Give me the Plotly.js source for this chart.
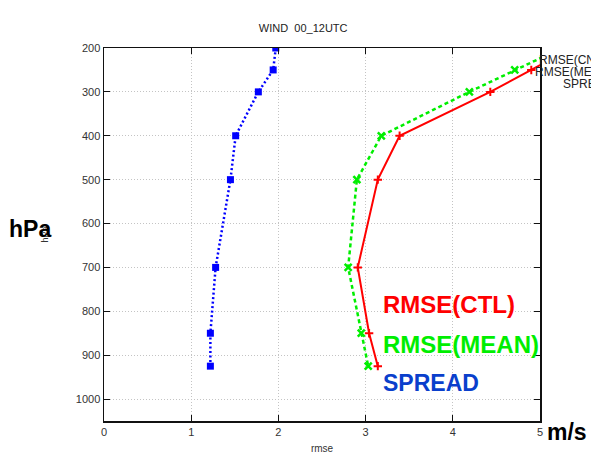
<!DOCTYPE html>
<html>
<head>
<meta charset="utf-8">
<script src="https://cdn.plot.ly/plotly-3.0.1.min.js"></script>
<style>html,body{margin:0;padding:0;background:#fff}#chart{width:591px;height:462px}</style>
</head>
<body>
<div id="chart"></div>
<script>
const levels = [200, 250, 300, 400, 500, 700, 850, 925];
const rmseCtl = [5.35, 4.90, 4.43, 3.39, 3.14, 2.91, 3.04, 3.14];
const rmseMean = [5.25, 4.71, 4.19, 3.18, 2.90, 2.80, 2.95, 3.03];
const spread = [1.97, 1.94, 1.77, 1.51, 1.45, 1.28, 1.22, 1.22];
const xTicks = [0, 1, 2, 3, 4, 5];
const yTicks = [200, 300, 400, 500, 600, 700, 800, 900, 1000];

const FONT = 'Liberation Sans, Arial, sans-serif';

const traces = [
  {x: rmseCtl, y: levels, type: 'scatter', mode: 'lines+markers', name: 'RMSE(CNTL)',
   line: {color: '#ff0000', width: 2, dash: 'solid'},
   marker: {symbol: 'cross-thin', size: 6, color: '#ff0000', line: {color: '#ff0000', width: 2}}, cliponaxis: true},
  {x: rmseMean, y: levels, type: 'scatter', mode: 'lines+markers', name: 'RMSE(MEAN)',
   line: {color: '#00ee00', width: 2.5, dash: '4px,3px'},
   marker: {symbol: 'x-thin', size: 7, color: '#00ee00', line: {color: '#00ee00', width: 2.5}}, cliponaxis: true},
  {x: spread, y: levels, type: 'scatter', mode: 'lines+markers', name: 'SPREAD',
   line: {color: '#0000ff', width: 2.5, dash: '2px,2.5px'},
   marker: {symbol: 'square', size: 7, color: '#0000ff'}, cliponaxis: true}
];

const axisCommon = {
  showline: true, linecolor: '#111', linewidth: 1.5, mirror: 'allticks',
  ticks: 'inside', ticklen: 6, tickcolor: '#111',
  showgrid: true, gridcolor: '#c4c4c4', griddash: '1px,2px', gridwidth: 1,
  zeroline: false, tickfont: {family: FONT, size: 11, color: '#333'}
};

const layout = {
  width: 591, height: 462,
  margin: {l: 104, r: 51, t: 48, b: 41},
  paper_bgcolor: '#fff', plot_bgcolor: '#fff',
  showlegend: false,
  title: {text: 'WIND  00_12UTC', x: 0.513, xanchor: 'center', y: 0.94, yanchor: 'middle',
          font: {family: FONT, size: 11, color: '#222'}},
  xaxis: Object.assign({}, axisCommon, {range: [0, 5], tickvals: xTicks, ticktext: xTicks.map(String),
    title: {text: 'rmse', standoff: 8, font: {family: FONT, size: 10, color: '#333'}}}),
  yaxis: Object.assign({}, axisCommon, {range: [1050, 200], tickvals: yTicks, ticktext: yTicks.map(String),
    title: {text: 'hPa', standoff: 25, font: {family: FONT, size: 9, color: '#333'}}}),
  annotations: [
    {xref: 'paper', yref: 'paper', x: 0.636, y: 0.313, xanchor: 'left', yanchor: 'middle', showarrow: false,
     text: '<b>RMSE(CTL)</b>', font: {family: FONT, size: 24, color: '#ff0000'}},
    {xref: 'paper', yref: 'paper', x: 0.636, y: 0.206, xanchor: 'left', yanchor: 'middle', showarrow: false,
     text: '<b>RMSE(MEAN)</b>', font: {family: FONT, size: 24, color: '#00ee00'}},
    {xref: 'paper', yref: 'paper', x: 0.636, y: 0.102, xanchor: 'left', yanchor: 'middle', showarrow: false,
     text: '<b>SPREAD</b>', font: {family: FONT, size: 23, color: '#0a3fcc'}},
    {xref: 'paper', yref: 'paper', x: -0.17, y: 0.515, xanchor: 'center', yanchor: 'middle', showarrow: false,
     text: '<b>hPa</b>', font: {family: FONT, size: 23, color: '#000'}},
    {xref: 'paper', yref: 'paper', x: 1.012, y: -0.03, xanchor: 'left', yanchor: 'middle', showarrow: false,
     text: '<b>m/s</b>', font: {family: FONT, size: 23, color: '#000'}},
    {xref: 'paper', yref: 'paper', x: 0.994, y: 0.968, xanchor: 'left', yanchor: 'middle', showarrow: false,
     text: 'RMSE(CNTL)', font: {family: FONT, size: 12, color: '#222'}},
    {xref: 'paper', yref: 'paper', x: 0.985, y: 0.935, xanchor: 'left', yanchor: 'middle', showarrow: false,
     text: 'RMSE(MEAN)', font: {family: FONT, size: 12, color: '#222'}},
    {xref: 'paper', yref: 'paper', x: 1.048, y: 0.903, xanchor: 'left', yanchor: 'middle', showarrow: false,
     text: 'SPREAD', font: {family: FONT, size: 12, color: '#222'}}
  ]
};

Plotly.newPlot('chart', traces, layout, {staticPlot: true, displayModeBar: false});
</script>
</body>
</html>
